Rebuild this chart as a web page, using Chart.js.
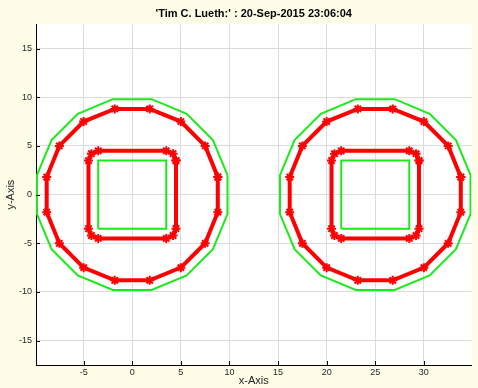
<!DOCTYPE html>
<html>
<head>
<meta charset="utf-8">
<script src="https://cdn.jsdelivr.net/npm/chart.js@4"></script>
<style>
  html, body { margin: 0; padding: 0; background: #fffde8; }
  canvas { display: block; }
</style>
</head>
<body>
<canvas id="chart" width="478" height="388"></canvas>
<script>
const titleText = "'Tim C. Lueth:' : 20-Sep-2015 23:06:04";
const xTicks = [-5, 0, 5, 10, 15, 20, 25, 30];
const yTicks = [-15, -10, -5, 0, 5, 10, 15];

// left part, centre (0, 0)
const greenOuterX1 = [9.8, 8.3, 5.6, 2.0, -2.0, -5.6, -8.3, -9.8, -9.8, -8.3, -5.6, -2.0, 2.0, 5.6, 8.3, 9.8, 9.8];
const greenOuterY1 = [2.0, 5.6, 8.3, 9.8, 9.8, 8.3, 5.6, 2.0, -2.0, -5.6, -8.3, -9.8, -9.8, -8.3, -5.6, -2.0, 2.0];
const redOuterX1 = [8.8, 7.5, 5.0, 1.8, -1.8, -5.0, -7.5, -8.8, -8.8, -7.5, -5.0, -1.8, 1.8, 5.0, 7.5, 8.8, 8.8];
const redOuterY1 = [1.8, 5.0, 7.5, 8.8, 8.8, 7.5, 5.0, 1.8, -1.8, -5.0, -7.5, -8.8, -8.8, -7.5, -5.0, -1.8, 1.8];
const redInnerX1 = [4.5, 4.2, 3.5, -3.5, -4.2, -4.5, -4.5, -4.2, -3.5, 3.5, 4.2, 4.5, 4.5];
const redInnerY1 = [3.5, 4.2, 4.5, 4.5, 4.2, 3.5, -3.5, -4.2, -4.5, -4.5, -4.2, -3.5, 3.5];
const greenInnerX1 = [-3.5, 3.5, 3.5, -3.5, -3.5];
const greenInnerY1 = [-3.5, -3.5, 3.5, 3.5, -3.5];

// right part, centre (25, 0)
const greenOuterX2 = [34.8, 33.3, 30.6, 27.0, 23.0, 19.4, 16.7, 15.2, 15.2, 16.7, 19.4, 23.0, 27.0, 30.6, 33.3, 34.8, 34.8];
const greenOuterY2 = [2.0, 5.6, 8.3, 9.8, 9.8, 8.3, 5.6, 2.0, -2.0, -5.6, -8.3, -9.8, -9.8, -8.3, -5.6, -2.0, 2.0];
const redOuterX2 = [33.8, 32.5, 30.0, 26.8, 23.2, 20.0, 17.5, 16.2, 16.2, 17.5, 20.0, 23.2, 26.8, 30.0, 32.5, 33.8, 33.8];
const redOuterY2 = [1.8, 5.0, 7.5, 8.8, 8.8, 7.5, 5.0, 1.8, -1.8, -5.0, -7.5, -8.8, -8.8, -7.5, -5.0, -1.8, 1.8];
const redInnerX2 = [29.5, 29.2, 28.5, 21.5, 20.8, 20.5, 20.5, 20.8, 21.5, 28.5, 29.2, 29.5, 29.5];
const redInnerY2 = [3.5, 4.2, 4.5, 4.5, 4.2, 3.5, -3.5, -4.2, -4.5, -4.5, -4.2, -3.5, 3.5];
const greenInnerX2 = [21.5, 28.5, 28.5, 21.5, 21.5];
const greenInnerY2 = [-3.5, -3.5, 3.5, 3.5, -3.5];

const GREEN = "#1aea1a";
const RED = "#ff0000";

function pts(xs, ys) {
  return xs.map((x, i) => ({ x: x, y: ys[i] }));
}

function greenLine(xs, ys) {
  return {
    data: pts(xs, ys),
    showLine: true,
    borderColor: GREEN,
    borderWidth: 2,
    pointRadius: 0,
    fill: false
  };
}

function redLine(xs, ys) {
  return {
    data: pts(xs, ys),
    showLine: true,
    borderColor: RED,
    borderWidth: 4,
    pointStyle: "star",
    pointRadius: 4.5,
    pointBorderWidth: 2,
    pointBorderColor: RED,
    pointBackgroundColor: RED,
    fill: false
  };
}

// white plot area + inward tick marks like matlab
const axesBox = {
  id: "axesBox",
  beforeDraw(chart) {
    const a = chart.chartArea;
    const ctx = chart.ctx;
    ctx.save();
    ctx.fillStyle = "#ffffff";
    ctx.fillRect(a.left, a.top, a.right - a.left, a.bottom - a.top);
    ctx.restore();
  },
  afterDraw(chart) {
    const a = chart.chartArea;
    const ctx = chart.ctx;
    const xs = chart.scales.x, ys = chart.scales.y;
    ctx.save();
    ctx.strokeStyle = "#000000";
    ctx.lineWidth = 1;
    ctx.beginPath();
    xTicks.forEach(v => {
      const px = Math.round(xs.getPixelForValue(v)) + 0.5;
      ctx.moveTo(px, a.bottom);
      ctx.lineTo(px, a.bottom - 4);
    });
    yTicks.forEach(v => {
      const py = Math.round(ys.getPixelForValue(v)) + 0.5;
      ctx.moveTo(a.left, py);
      ctx.lineTo(a.left + 4, py);
    });
    ctx.stroke();
    ctx.restore();
  }
};

const tickFont = { family: "'Liberation Sans', Arial, sans-serif", size: 9 };
const labelFont = { family: "'Liberation Sans', Arial, sans-serif", size: 11 };

new Chart(document.getElementById("chart").getContext("2d"), {
  type: "scatter",
  data: {
    datasets: [
      greenLine(greenOuterX1, greenOuterY1),
      greenLine(greenInnerX1, greenInnerY1),
      redLine(redOuterX1, redOuterY1),
      redLine(redInnerX1, redInnerY1),
      greenLine(greenOuterX2, greenOuterY2),
      greenLine(greenInnerX2, greenInnerY2),
      redLine(redOuterX2, redOuterY2),
      redLine(redInnerX2, redInnerY2)
    ]
  },
  options: {
    responsive: false,
    animation: false,
    layout: { padding: { left: 0, right: 6, top: 0, bottom: 0 } },
    plugins: {
      legend: { display: false },
      tooltip: { enabled: false },
      title: {
        display: true,
        text: titleText,
        fullSize: false,
        color: "#000000",
        font: { family: "'Liberation Sans', Arial, sans-serif", size: 11, weight: "bold" },
        padding: { top: 7, bottom: 4 }
      }
    },
    scales: {
      x: {
        type: "linear",
        position: "bottom",
        min: -9.9,
        max: 34.9,
        afterBuildTicks: s => { s.ticks = xTicks.map(v => ({ value: v })); },
        afterFit: s => { s.height = 23; },
        grid: { color: "#dcdcdc", drawTicks: false },
        border: { color: "#000000", width: 1 },
        ticks: { font: tickFont, color: "#262626", padding: 2 },
        title: { display: true, text: "x-Axis", font: labelFont, color: "#262626", padding: { top: 0, bottom: 0 } }
      },
      y: {
        type: "linear",
        position: "left",
        min: -17.5,
        max: 17.5,
        afterBuildTicks: s => { s.ticks = yTicks.map(v => ({ value: v })); },
        afterFit: s => { s.width = 36; },
        grid: { color: "#dcdcdc", drawTicks: false },
        border: { color: "#000000", width: 1 },
        ticks: { font: tickFont, color: "#262626", padding: 4 },
        title: { display: true, text: "y-Axis", font: labelFont, color: "#262626", padding: { top: 4, bottom: 0 } }
      }
    }
  },
  plugins: [axesBox]
});
</script>
</body>
</html>
